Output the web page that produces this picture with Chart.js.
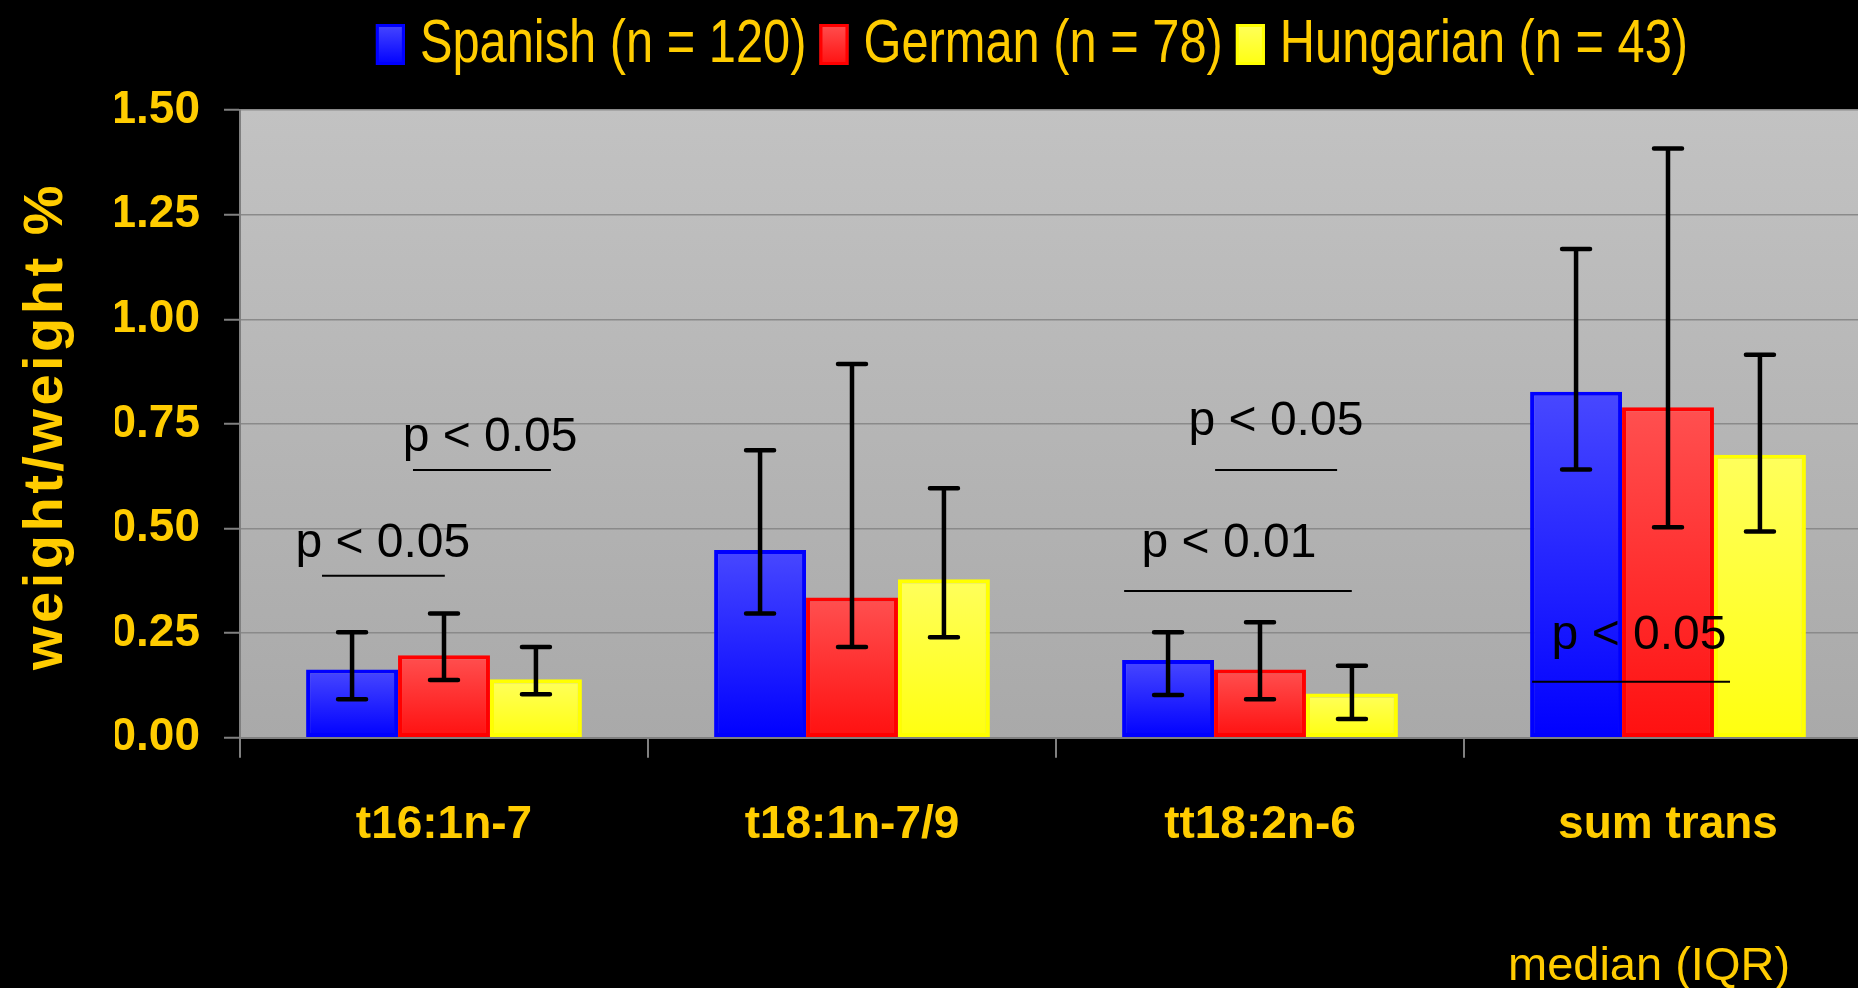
<!DOCTYPE html>
<html>
<head>
<meta charset="utf-8">
<script src="https://cdn.jsdelivr.net/npm/chart.js@4.4.1/dist/chart.umd.min.js"></script>
<style>
  html, body { margin: 0; padding: 0; background: #000; overflow: hidden; }
  #wrap { width: 1872px; height: 988px; }
</style>
</head>
<body>
<div id="wrap"><canvas id="chart" width="1872" height="988"></canvas></div>
<script>
const categories = ['t16:1n-7', 't18:1n-7/9', 'tt18:2n-6', 'sum trans'];
const seriesNames = ['Spanish (n = 120)', 'German (n = 78)', 'Hungarian (n = 43)'];

// medians and interquartile range
const spanishMedian = [0.163, 0.449, 0.186, 0.827];
const spanishQ1 = [0.092, 0.297, 0.102, 0.641];
const spanishQ3 = [0.252, 0.687, 0.252, 1.168];

const germanMedian = [0.197, 0.335, 0.163, 0.790];
const germanQ1 = [0.138, 0.217, 0.092, 0.503];
const germanQ3 = [0.297, 0.893, 0.276, 1.408];

const hungarianMedian = [0.140, 0.379, 0.106, 0.676];
const hungarianQ1 = [0.104, 0.240, 0.045, 0.493];
const hungarianQ3 = [0.217, 0.596, 0.172, 0.915];

const yMin = 0, yMax = 1.5, yStep = 0.25;

// significance notes: category, label, text/line heights (in axis units)
const sigCategory = [0, 0, 2, 2, 3];
const sigLabels = ['p < 0.05', 'p < 0.05', 'p < 0.05', 'p < 0.01', 'p < 0.05'];
const sigTextY = [0.432, 0.685, 0.723, 0.432, 0.212];
const sigLineY = [0.387, 0.640, 0.640, 0.351, 0.134];
// horizontal offsets as a share of one category width
const sigTextX = [-0.150, 0.113, 0.039, -0.076, -0.071];
const sigLineFrom = [-0.299, -0.076, -0.110, -0.333, -0.333];
const sigLineTo = [0.002, 0.262, 0.189, 0.225, 0.152];

const GOLD = '#FFCC00';
const FONT = "'Liberation Sans', Arial, sans-serif";

const palette = [
  { top: '#4848ff', bottom: '#0000ff', border: '#0000ff' },
  { top: '#ff5050', bottom: '#ff1010', border: '#ff0000' },
  { top: '#ffff5c', bottom: '#ffff10', border: '#ffff00' }
];

const lows = [spanishQ1, germanQ1, hungarianQ1];
const highs = [spanishQ3, germanQ3, hungarianQ3];

function barFill(i) {
  return (c) => {
    const chart = c.chart;
    if (!chart.chartArea || c.raw == null) return palette[i].bottom;
    const y = chart.scales.y;
    const top = y.getPixelForValue(c.raw);
    const base = y.getPixelForValue(0);
    const g = chart.ctx.createLinearGradient(0, top, 0, base);
    g.addColorStop(0, palette[i].top);
    g.addColorStop(1, palette[i].bottom);
    return g;
  };
}

const plotBackground = {
  id: 'plotBackground',
  beforeDraw(chart) {
    const { ctx, chartArea: a } = chart;
    const g = ctx.createLinearGradient(0, a.top, 0, a.bottom);
    g.addColorStop(0, '#c2c2c2');
    g.addColorStop(1, '#a9a9a9');
    ctx.save();
    ctx.fillStyle = g;
    ctx.fillRect(a.left, a.top, a.right - a.left, a.bottom - a.top);
    ctx.restore();
  }
};

const errorBars = {
  id: 'errorBars',
  afterDatasetsDraw(chart) {
    const { ctx } = chart;
    const y = chart.scales.y;
    ctx.save();
    ctx.strokeStyle = '#000';
    ctx.lineWidth = 4.5;
    ctx.lineCap = 'round';
    chart.data.datasets.forEach((ds, i) => {
      chart.getDatasetMeta(i).data.forEach((bar, j) => {
        const lo = y.getPixelForValue(lows[i][j]);
        const hi = y.getPixelForValue(highs[i][j]);
        ctx.beginPath();
        ctx.moveTo(bar.x, lo);
        ctx.lineTo(bar.x, hi);
        ctx.moveTo(bar.x - 14, lo);
        ctx.lineTo(bar.x + 14, lo);
        ctx.moveTo(bar.x - 14, hi);
        ctx.lineTo(bar.x + 14, hi);
        ctx.stroke();
      });
    });
    ctx.restore();
  }
};

const significance = {
  id: 'significance',
  afterDatasetsDraw(chart) {
    const { ctx } = chart;
    const x = chart.scales.x, y = chart.scales.y;
    const w = (x.right - x.left) / categories.length;
    ctx.save();
    ctx.fillStyle = '#000';
    ctx.strokeStyle = '#000';
    ctx.lineWidth = 2;
    ctx.font = '48px ' + FONT;
    ctx.textAlign = 'center';
    ctx.textBaseline = 'alphabetic';
    sigLabels.forEach((label, k) => {
      const cx = x.getPixelForValue(sigCategory[k]);
      ctx.fillText(label, cx + sigTextX[k] * w, y.getPixelForValue(sigTextY[k]));
      const ly = y.getPixelForValue(sigLineY[k]);
      ctx.beginPath();
      ctx.moveTo(cx + sigLineFrom[k] * w, ly);
      ctx.lineTo(cx + sigLineTo[k] * w, ly);
      ctx.stroke();
    });
    ctx.restore();
  }
};

// legend, axis title and footnote drawn by hand (narrow type, spaced title)
const decorations = {
  id: 'decorations',
  afterDraw(chart) {
    const { ctx } = chart;
    ctx.save();

    // legend
    const squeeze = 0.8;
    ctx.font = '61px ' + FONT;
    const boxW = 29, boxH = 41, gapText = 15, gapItem = 13;
    const widths = seriesNames.map(n => ctx.measureText(n).width * squeeze);
    const total = widths.reduce((s, v) => s + v, 0) + seriesNames.length * (boxW + gapText) + (seriesNames.length - 1) * gapItem;
    let lx = 1032 - total / 2;
    seriesNames.forEach((name, i) => {
      const g = ctx.createLinearGradient(0, 24, 0, 24 + boxH);
      g.addColorStop(0, palette[i].top);
      g.addColorStop(1, palette[i].bottom);
      ctx.fillStyle = g;
      ctx.fillRect(lx, 24, boxW, boxH);
      ctx.strokeStyle = palette[i].border;
      ctx.lineWidth = 3;
      ctx.strokeRect(lx + 1.5, 25.5, boxW - 3, boxH - 3);
      lx += boxW + gapText;
      ctx.save();
      ctx.translate(lx, 62);
      ctx.scale(squeeze, 1);
      ctx.fillStyle = GOLD;
      ctx.textAlign = 'left';
      ctx.textBaseline = 'alphabetic';
      ctx.fillText(name, 0, 0);
      ctx.restore();
      lx += widths[i] + gapItem;
    });

    // y axis title
    ctx.save();
    ctx.translate(62, 426);
    ctx.rotate(-Math.PI / 2);
    ctx.font = 'bold 56px ' + FONT;
    ctx.letterSpacing = '3.5px';
    ctx.fillStyle = GOLD;
    ctx.textAlign = 'center';
    ctx.textBaseline = 'alphabetic';
    ctx.fillText('weight/weight %', 0, 0);
    ctx.restore();

    // footnote
    ctx.font = '47px ' + FONT;
    ctx.fillStyle = GOLD;
    ctx.textAlign = 'left';
    ctx.textBaseline = 'alphabetic';
    ctx.fillText('median (IQR)', 1508, 980);

    ctx.restore();
  }
};

const datasets = [spanishMedian, germanMedian, hungarianMedian].map((values, i) => ({
  label: seriesNames[i],
  data: values,
  backgroundColor: barFill(i),
  borderColor: palette[i].border,
  borderWidth: 4,
  borderSkipped: false,
  categoryPercentage: 0.676,
  barPercentage: 1.0
}));

new Chart(document.getElementById('chart'), {
  type: 'bar',
  data: { labels: categories, datasets: datasets },
  options: {
    responsive: false,
    animation: false,
    layout: { padding: { top: 110, left: 115, right: 0, bottom: 95 } },
    plugins: {
      legend: { display: false },
      tooltip: { enabled: false }
    },
    scales: {
      x: {
        grid: {
          offset: true,
          drawOnChartArea: false,
          drawTicks: true,
          tickLength: 20,
          color: '#808080',
          lineWidth: 2
        },
        border: { color: '#808080', width: 2 },
        ticks: {
          color: GOLD,
          padding: 40,
          font: { family: FONT, size: 46, weight: 'bold' }
        }
      },
      y: {
        min: yMin,
        max: yMax,
        afterFit(scale) { scale.width = 125; },
        grid: {
          color: '#8a8a8a',
          lineWidth: 1.5,
          tickLength: 16,
          tickColor: '#808080',
          tickWidth: 2
        },
        border: { color: '#808080', width: 2 },
        ticks: {
          stepSize: yStep,
          color: GOLD,
          padding: 24,
          font: { family: FONT, size: 46, weight: 'bold' },
          callback: (v) => Number(v).toFixed(2)
        }
      }
    }
  },
  plugins: [plotBackground, errorBars, significance, decorations]
});
</script>
</body>
</html>
